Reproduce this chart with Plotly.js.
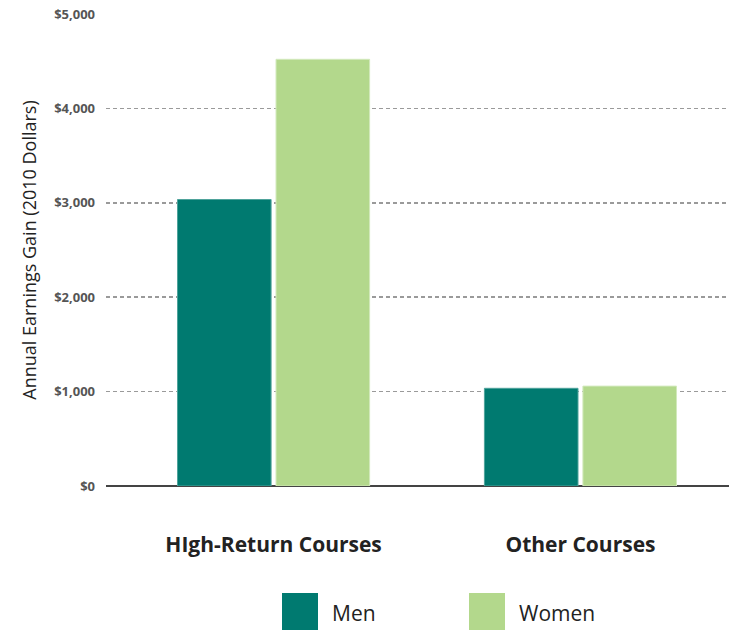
<!DOCTYPE html>
<html>
<head>
<meta charset="utf-8">
<script src="https://cdn.plot.ly/plotly-3.0.1.min.js"></script>
<style>html,body{margin:0;padding:0;background:#fff;}</style>
</head>
<body>
<div id="chart" style="width:739px;height:630px;"></div>
<script>
const categories = ["HIgh-Return Courses", "Other Courses"];
const seriesNames = ["Men", "Women"];
const menValues = [3035, 1035];
const womenValues = [4520, 1058];
const seriesColors = ["#007A70", "#B3D88C"];
const yTickValues = [0, 1000, 2000, 3000, 4000, 5000];
const yTickLabels = ["$0", "$1,000", "$2,000", "$3,000", "$4,000", "$5,000"];

const FONT = "'Open Sans', 'Noto Sans', sans-serif";

const traces = [
  {type: "bar", name: seriesNames[0], x: categories, y: menValues,
   marker: {color: seriesColors[0], line: {color: "#4FA39B", width: 1}}},
  {type: "bar", name: seriesNames[1], x: categories, y: womenValues,
   marker: {color: seriesColors[1], line: {color: "#D2E9BC", width: 1}}}
];

// custom legend with large swatches
const legendX = [282, 469];
const shapes = [];
const annotations = [];
seriesNames.forEach((n, i) => {
  shapes.push({type: "rect", xref: "paper", yref: "paper",
    x0: (legendX[i] - 106) / 623, x1: (legendX[i] + 36 - 106) / 623,
    y0: (486 - 630) / 472, y1: (486 - 593) / 472,
    fillcolor: seriesColors[i], line: {width: 0}});
  annotations.push({xref: "paper", yref: "paper",
    x: (legendX[i] + 48 - 106) / 623, y: (486 - 613) / 472,
    xanchor: "left", yanchor: "middle", showarrow: false, text: n,
    font: {family: FONT, size: 21, color: "#222"}});
});

const layout = {
  width: 739, height: 630,
  margin: {l: 106, r: 10, t: 14, b: 144},
  paper_bgcolor: "#fff", plot_bgcolor: "#fff",
  showlegend: false,
  barmode: "group",
  bargap: 0.358,
  bargroupgap: 0.05,
  font: {family: FONT},
  xaxis: {
    range: [-0.546, 1.484],
    showgrid: false, showline: false, zeroline: false,
    ticks: "", ticklabelstandoff: 44,
    tickfont: {family: FONT, size: 21, color: "#222", weight: "bold"}
  },
  yaxis: {
    range: [0, 5000],
    tickvals: yTickValues, ticktext: yTickLabels,
    showgrid: true, gridcolor: "#9a9a9a", gridwidth: 1.5, griddash: "4px,3px",
    zeroline: true, zerolinecolor: "#444", zerolinewidth: 2,
    showline: false, ticks: "", ticklabelstandoff: 10,
    tickfont: {family: FONT, size: 13, color: "#555", weight: "bold"},
    title: {text: "Annual Earnings Gain (2010 Dollars)", standoff: 12,
            font: {family: FONT, size: 18, color: "#222"}}
  },
  shapes: shapes,
  annotations: annotations
};

Plotly.newPlot("chart", traces, layout, {displayModeBar: false, staticPlot: true});
</script>
</body>
</html>
